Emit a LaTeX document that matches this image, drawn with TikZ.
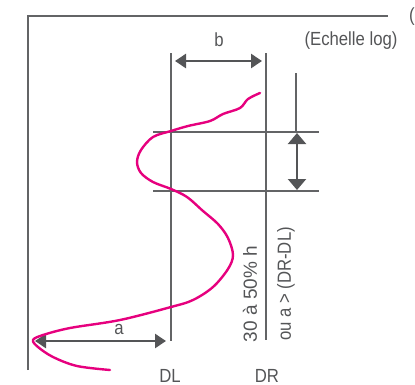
\documentclass[tikz,border=0pt]{standalone}
\usepackage{fontspec}
\setmainfont{Liberation Sans}
\newfontfamily\cf[FakeStretch=0.88]{Liberation Sans}
\newfontfamily\cfw[FakeStretch=1.0]{Liberation Sans}
\usetikzlibrary{arrows.meta}
\definecolor{ln}{HTML}{636466}
\definecolor{ar}{HTML}{545557}
\definecolor{mg}{HTML}{E6007E}
\begin{document}
\begin{tikzpicture}[x=1pt,y=-1pt,
 lbl/.style={font=\cf\fontsize{19}{19}\selectfont, text=ar, inner sep=0pt},
 lblw/.style={font=\cfw\fontsize{19}{19}\selectfont, text=ar, inner sep=0pt},
 gline/.style={draw=ln, line width=2.8pt},
 hline/.style={draw=ln, line width=1.8pt},
 dimb/.style={draw=ar, line width=2.6pt, {Triangle[length=11pt,width=14pt]}-{Triangle[length=11pt,width=14pt]}},
 dimv/.style={draw=ar, line width=2.2pt, {Triangle[length=11pt,width=18pt]}-{Triangle[length=11pt,width=18pt]}},
 curve/.style={draw=mg, line width=2.4pt, line cap=round, line join=round}]
\useasboundingbox (0,0) rectangle (415,384);
% frame
\coordinate (fb) at (28,370);
\coordinate (fc) at (28,16);
\coordinate (fr) at (388,16);
\draw[gline] (fb) -- (fc) -- (fr);
% DL and DR lines
\coordinate (dlt) at (171,53);
\coordinate (dlb) at (171,341);
\coordinate (drt) at (266,53);
\coordinate (drb) at (266,340);
\draw[gline] (dlt) -- (dlb);
\draw[gline] (drt) -- (drb);
% horizontal lines
\coordinate (h1l) at (153,132);
\coordinate (h1r) at (319,132);
\coordinate (h2l) at (153,191);
\coordinate (h2r) at (319,191);
\draw[hline] (h1l) -- (h1r);
\draw[hline] (h2l) -- (h2r);
% third vertical line
\coordinate (vt) at (296,73);
\coordinate (vb) at (296,132);
\draw[draw=ln, line width=2.2pt] (vt) -- (vb);
% dimension arrows
\coordinate (bl) at (175,61);
\coordinate (br) at (262,61);
\draw[dimb] (bl) -- (br);
\coordinate (va) at (297,133);
\coordinate (vz) at (297,190);
\draw[dimv] (va) -- (vz);
\coordinate (al) at (35,341);
\coordinate (ar) at (166,341);
\draw[dimb] (al) -- (ar);
% curve
\draw[curve] plot[smooth, tension=0.55] coordinates {
(260,93) (248,99) (240,108) (223,114) (210,121) (188,126) (171,131) (153,137)
(141,150) (137,162) (141,173) (153,182) (171,189) (187,197) (203,211) (218,224)
(228,238) (233,255) (228,269) (213,287) (193,300) (171,307) (120,320) (70,328)
(43,335) (33,340) (38,347) (53,357) (77,366) (110,370)};
% labels
\node[lbl] (lb) at (219,40) {b};
\node[lbl] (lech) at (351,41) {(Echelle log)};
\node[lbl, anchor=west] (lpar) at (409,17) {(};
\node[lbl] (la) at (119,329) {a};
\node[lbl] (ldl) at (170,376) {DL};
\node[lbl] (ldr) at (267,376) {DR};
\node[lblw, rotate=90] (l30) at (250,294) {30 à 50\% h};
\node[lbl, rotate=90] (lou) at (286,284) {ou a > (DR-DL)};
\end{tikzpicture}
\end{document}
